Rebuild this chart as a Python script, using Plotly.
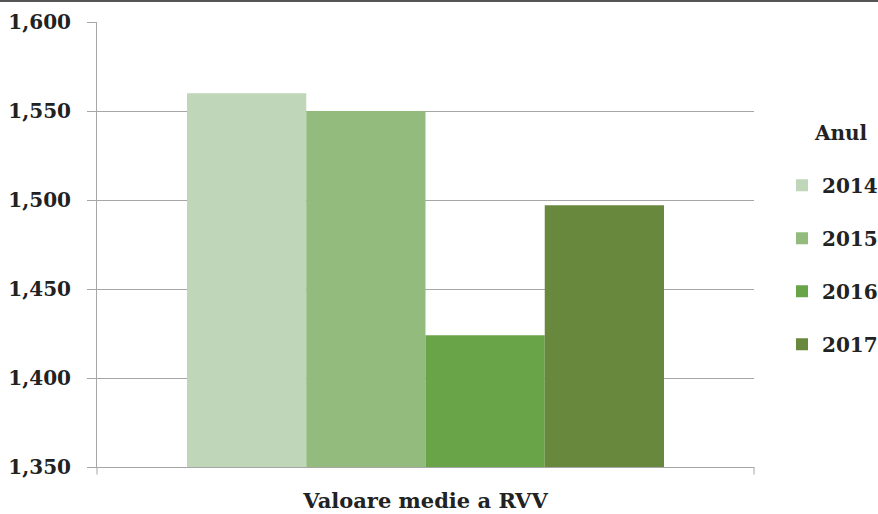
import plotly.graph_objects as go

categories = ["Valoare medie a RVV"]
years = ["2014", "2015", "2016", "2017"]
values = [1560, 1550, 1424, 1497]
colors = ["#bfd6b9", "#93bb7e", "#69a448", "#67883d"]

FONT = "DejaVu Serif"
TXT = "#222222"

fig = go.Figure()
for i, (yr, v, c) in enumerate(zip(years, values, colors)):
    fig.add_trace(go.Bar(
        x=categories, y=[v], name=yr, marker=dict(color=c, line=dict(width=0)),
        legendgroup=yr,
    ))

fig.update_layout(
    width=878, height=514,
    margin=dict(l=97, r=124, t=22, b=47, autoexpand=False),
    paper_bgcolor="white", plot_bgcolor="white",
    barmode="group", bargap=0.274, bargroupgap=0,
    font=dict(family=FONT, size=20, color=TXT, weight="bold"),
    legend=dict(
        font=dict(family=FONT, size=20, color=TXT, weight="bold"),
        x=1.0426, xanchor="left", y=0.677, yanchor="top",
        tracegroupgap=24, itemwidth=30,
    ),
    showlegend=True,
)
fig.add_annotation(text="Anul", xref="paper", yref="paper", x=1.1324, y=0.7506,
                   xanchor="center", yanchor="middle", showarrow=False,
                   font=dict(family=FONT, size=20, color=TXT, weight="bold"))
fig.update_yaxes(
    range=[1350, 1600], dtick=50, tickformat=",d",
    showgrid=True, gridcolor="#a6a6a6", gridwidth=1,
    showline=True, linecolor="#a6a6a6", linewidth=1,
    ticks="outside", ticklen=9, tickcolor="#a6a6a6",
    tickfont=dict(family=FONT, size=20, color=TXT, weight="bold"),
    ticklabelstandoff=12,
    zeroline=False, automargin=False,
)
fig.update_xaxes(
    showline=True, linecolor="#a6a6a6", linewidth=1,
    ticks="", showgrid=False, automargin=False,
    tickfont=dict(family=FONT, size=21, color=TXT, weight="bold"),
    ticklabelstandoff=15,
)
# boundary ticks on the category axis
for xp in [0, 1]:
    fig.add_shape(type="line", xref="paper", yref="paper", x0=xp, x1=xp, y0=0, y1=-0.017,
                  line=dict(color="#a6a6a6", width=1))
# dark border line at the top of the picture
fig.add_shape(type="line", xref="paper", yref="paper", x0=-0.2, x1=1.2, y0=1.047, y1=1.047,
              line=dict(color="#555555", width=2))

fig.write_html("out.html", config={"displayModeBar": False},
               post_script="document.body.style.margin='0';")
